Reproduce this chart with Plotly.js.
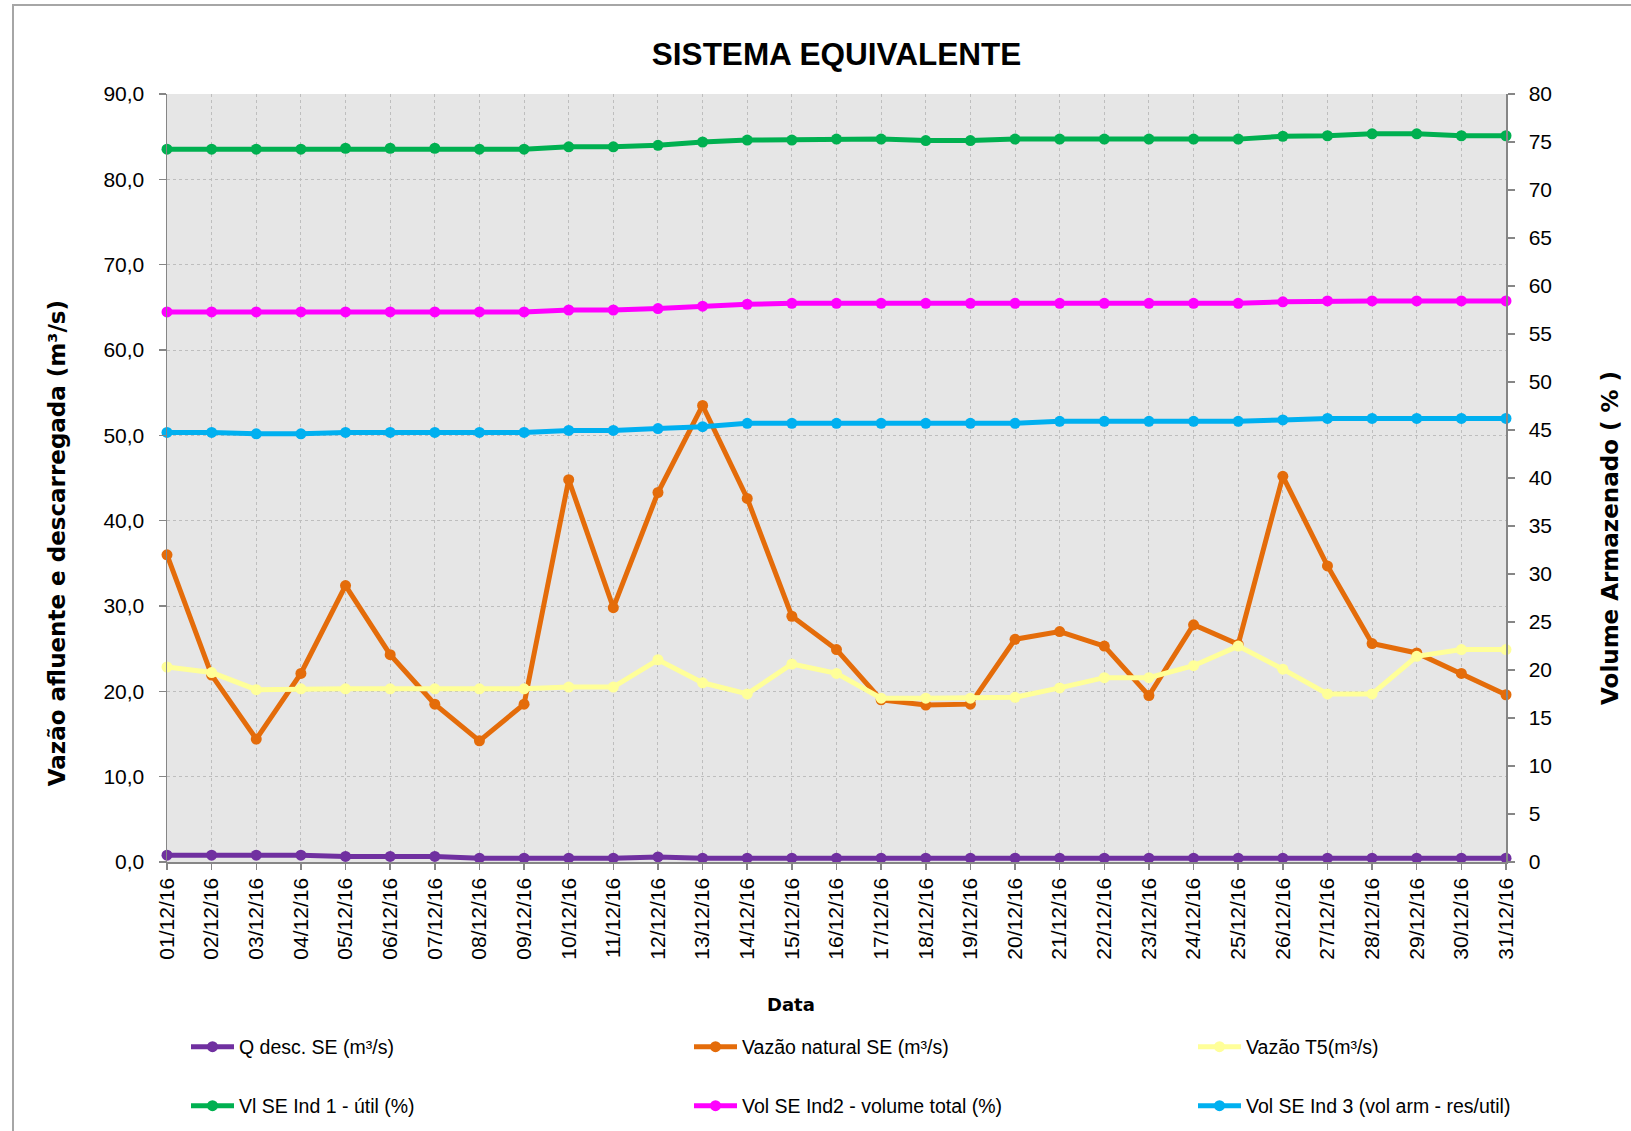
<!DOCTYPE html>
<html>
<head>
<meta charset="utf-8">
<script src="https://cdn.plot.ly/plotly-3.0.1.min.js"></script>
<style>
  html, body { margin: 0; padding: 0; background: #ffffff; overflow: hidden; }
  #wrap { position: relative; width: 1631px; height: 1131px; }
  #chart { width: 1631px; height: 1131px; }
  #frame { position: absolute; left: 12px; top: 4px; width: 1700px; height: 1300px;
           border-left: 2px solid #A6A6A6; border-top: 2px solid #A6A6A6; pointer-events: none; }
</style>
</head>
<body>
<div id="wrap">
  <div id="chart"></div>
  <div id="frame"></div>
</div>
<script>
// ---- data ----
const dates = ["01/12/16","02/12/16","03/12/16","04/12/16","05/12/16","06/12/16","07/12/16","08/12/16",
  "09/12/16","10/12/16","11/12/16","12/12/16","13/12/16","14/12/16","15/12/16","16/12/16","17/12/16",
  "18/12/16","19/12/16","20/12/16","21/12/16","22/12/16","23/12/16","24/12/16","25/12/16","26/12/16",
  "27/12/16","28/12/16","29/12/16","30/12/16","31/12/16"];

// left axis (m³/s)
const qDesc = [0.8,0.8,0.8,0.8,0.65,0.65,0.65,0.45,0.45,0.45,0.45,0.6,0.45,0.45,0.45,0.45,0.45,
  0.45,0.45,0.45,0.45,0.45,0.45,0.45,0.45,0.45,0.45,0.45,0.45,0.45,0.45];
const vazaoNatural = [36.0,21.9,14.4,22.1,32.4,24.3,18.5,14.2,18.5,44.8,29.8,43.3,53.5,42.6,28.8,
  24.9,19.0,18.4,18.5,26.1,27.0,25.3,19.5,27.8,25.5,45.2,34.7,25.6,24.5,22.1,19.6];
const vazaoT5 = [22.85,22.2,20.2,20.3,20.3,20.3,20.3,20.3,20.3,20.5,20.5,23.7,21.0,19.7,23.2,
  22.1,19.2,19.2,19.2,19.3,20.4,21.6,21.6,23.0,25.3,22.6,19.7,19.7,24.1,24.9,24.9];

// right axis (%)
const vlInd1 = [74.25,74.25,74.25,74.25,74.35,74.35,74.35,74.25,74.25,74.5,74.5,74.65,75.0,75.2,75.2,
  75.3,75.3,75.15,75.15,75.3,75.3,75.3,75.3,75.3,75.3,75.6,75.65,75.85,75.85,75.65,75.65];
const volInd2 = [57.3,57.3,57.3,57.3,57.3,57.3,57.3,57.3,57.3,57.5,57.5,57.65,57.9,58.1,58.2,
  58.2,58.2,58.2,58.2,58.2,58.2,58.2,58.2,58.2,58.2,58.35,58.45,58.45,58.45,58.45,58.45];
const volInd3 = [44.75,44.75,44.6,44.6,44.75,44.75,44.75,44.75,44.75,44.95,44.95,45.15,45.35,45.7,45.7,
  45.7,45.7,45.7,45.7,45.7,45.9,45.9,45.9,45.9,45.9,46.05,46.2,46.2,46.2,46.2,46.2];

const seriesNames = ["Q desc. SE (m³/s)","Vazão natural SE (m³/s)","Vazão T5(m³/s)",
  "Vl SE Ind 1 - útil (%)","Vol SE Ind2 - volume total (%)","Vol SE Ind 3 (vol arm - res/util)"];

// ---- styling ----
const colors = ["#7030A0","#E46C0A","#FFFF99","#00B050","#FF00FF","#00B0F0"];
const seriesData = [qDesc, vazaoNatural, vazaoT5, vlInd1, volInd2, volInd3];
const axesFor = ["y","y","y","y2","y2","y2"];
const legendIds = ["legend","legend2","legend3","legend4","legend5","legend6"];

const traces = seriesData.map((vals, i) => ({
  type: "scatter",
  mode: "lines+markers",
  x: dates,
  y: vals,
  name: seriesNames[i],
  yaxis: axesFor[i],
  legend: legendIds[i],
  cliponaxis: false,
  line: { color: colors[i], width: 5 },
  marker: { color: colors[i], size: 11, symbol: "circle" },
  hoverinfo: "skip"
}));

const W = 1631, H = 1131;
const tickFont = { family: "Liberation Sans, Arial, sans-serif", size: 21, color: "#000000" };
const legFont = { family: "Liberation Sans, Arial, sans-serif", size: 19.5, color: "#000000" };
const colX = [186, 689, 1193];
const rowY = [1047, 1106];

function legendAt(col, row) {
  return {
    xref: "container", yref: "container",
    x: colX[col] / W, y: 1 - rowY[row] / H,
    xanchor: "left", yanchor: "middle",
    bgcolor: "rgba(0,0,0,0)", borderwidth: 0,
    font: legFont, orientation: "v", itemwidth: 43
  };
}

const layout = {
  width: W, height: H,
  margin: { l: 167, r: 125, t: 94, b: 269, pad: 0, autoexpand: false },
  paper_bgcolor: "#FFFFFF",
  plot_bgcolor: "#E6E6E6",
  separators: ",.",
  showlegend: true,
  title: {
    text: "SISTEMA EQUIVALENTE",
    font: { family: "Liberation Sans, Arial, sans-serif", size: 31.5, weight: "bold", color: "#000000" },
    xref: "paper", x: 0.5, xanchor: "center",
    yref: "container", y: 1 - 54 / H, yanchor: "middle"
  },
  xaxis: {
    type: "category",
    categoryorder: "array",
    categoryarray: dates,
    range: [0, dates.length - 1],
    tickmode: "linear", tick0: 0, dtick: 1,
    showgrid: true, gridcolor: "#BEBEBE", griddash: "dot", gridwidth: 1,
    showline: true, linecolor: "#868686", linewidth: 1.5,
    ticks: "outside", ticklen: 6, tickcolor: "#868686", tickwidth: 1.5,
    tickangle: -90, tickfont: tickFont,
    zeroline: false, automargin: false, fixedrange: true
  },
  yaxis: {
    range: [0, 90], tick0: 0, dtick: 10, tickformat: ".1f",
    showgrid: true, gridcolor: "#BEBEBE", griddash: "dot", gridwidth: 1,
    showline: true, linecolor: "#868686", linewidth: 1.5,
    ticks: "outside", ticklen: 7, tickcolor: "#868686", tickwidth: 1.5,
    ticklabelstandoff: 10,
    tickfont: tickFont, zeroline: false, automargin: false, fixedrange: true
  },
  yaxis2: {
    overlaying: "y", side: "right",
    range: [0, 80], tick0: 0, dtick: 5,
    showgrid: false,
    showline: true, linecolor: "#868686", linewidth: 1.5,
    ticks: "outside", ticklen: 7, tickcolor: "#868686", tickwidth: 1.5,
    ticklabelstandoff: 10,
    tickfont: tickFont, zeroline: false, automargin: false, fixedrange: true
  },
  legend: legendAt(0, 0),
  legend2: legendAt(1, 0),
  legend3: legendAt(2, 0),
  legend4: legendAt(0, 1),
  legend5: legendAt(1, 1),
  legend6: legendAt(2, 1),
  annotations: [
    {
      text: "Vazão afluente e descarregada (m³/s)",
      xref: "paper", yref: "paper", x: -0.0822, y: 0.415,
      xanchor: "center", yanchor: "middle", textangle: -90, showarrow: false,
      font: { family: "DejaVu Sans, Verdana, sans-serif", size: 23, weight: "bold", color: "#000000" }
    },
    {
      text: "Volume Armazenado ( % )",
      xref: "paper", yref: "paper", x: 1.0777, y: 0.422,
      xanchor: "center", yanchor: "middle", textangle: -90, showarrow: false,
      font: { family: "DejaVu Sans, Verdana, sans-serif", size: 23, weight: "bold", color: "#000000" }
    },
    {
      text: "Data",
      xref: "paper", yref: "paper", x: 0.466, y: -0.185,
      xanchor: "center", yanchor: "middle", showarrow: false,
      font: { family: "DejaVu Sans, Verdana, sans-serif", size: 18, weight: "bold", color: "#000000" }
    }
  ]
};

Plotly.newPlot("chart", traces, layout, { displayModeBar: false, staticPlot: true });
</script>
</body>
</html>
